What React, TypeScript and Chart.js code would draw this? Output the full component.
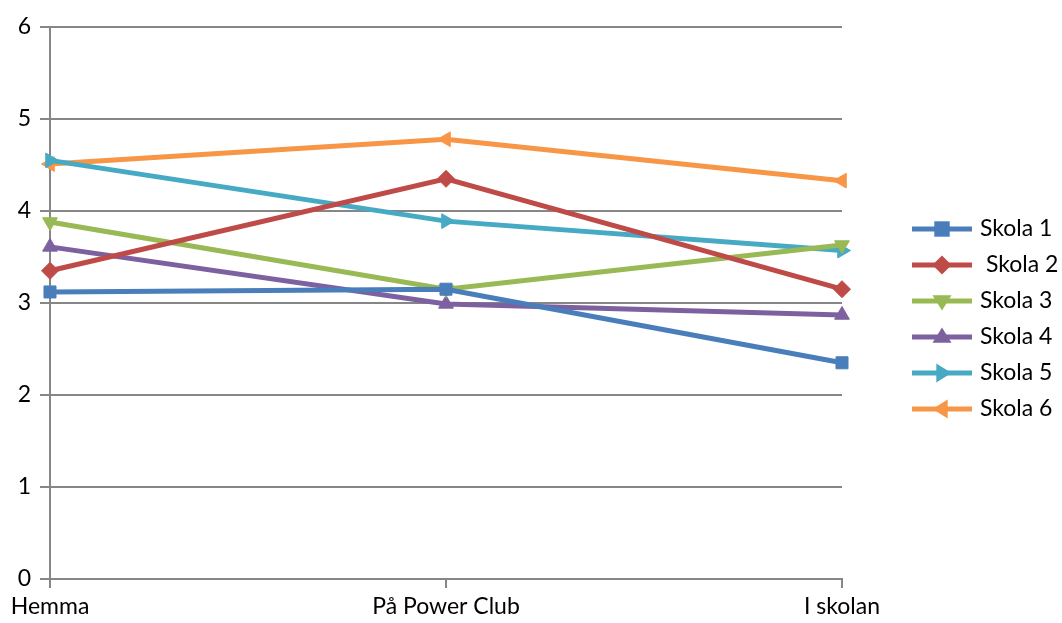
import React, { useEffect, useRef } from "react";
import { Chart, registerables } from "chart.js";

Chart.register(...registerables);

const categories = ["Hemma", "På Power Club", "I skolan"];
const seriesNames = ["Skola 1", " Skola 2", "Skola 3", "Skola 4", "Skola 5", "Skola 6"];
const skola1 = [3.12, 3.15, 2.35];
const skola2 = [3.35, 4.35, 3.15];
const skola3 = [3.88, 3.15, 3.63];
const skola4 = [3.61, 2.99, 2.87];
const skola5 = [4.55, 3.89, 3.57];
const skola6 = [4.51, 4.78, 4.33];
const yTicks = [0, 1, 2, 3, 4, 5, 6];

const colors = ["#4A7EBB", "#BE4B48", "#98B954", "#7D60A0", "#46AAC5", "#F79646"];
const pointStyles = ["rect", "rectRot", "triangle", "triangle", "triangle", "triangle"];
const rotations = [0, 0, 180, 0, 90, -90];
const FONT = "Lato, 'Noto Sans', sans-serif";

function drawMarker(ctx: CanvasRenderingContext2D, style: string, rot: number, x: number, y: number, r: number, color: string) {
  ctx.save();
  ctx.translate(x, y);
  ctx.rotate((rot * Math.PI) / 180);
  ctx.fillStyle = color;
  ctx.beginPath();
  if (style === "rect") {
    const s = Math.SQRT1_2 * r + 1;
    ctx.rect(-s, -s, 2 * s, 2 * s);
  } else if (style === "rectRot") {
    const s = r;
    ctx.moveTo(0, -s);
    ctx.lineTo(s, 0);
    ctx.lineTo(0, s);
    ctx.lineTo(-s, 0);
    ctx.closePath();
  } else {
    const h = r * 1.6;
    const half = r * 1.0;
    ctx.moveTo(0, -r);
    ctx.lineTo(half, -r + h);
    ctx.lineTo(-half, -r + h);
    ctx.closePath();
  }
  ctx.fill();
  ctx.restore();
}

const legendPlugin = {
  id: "customLegend",
  afterDraw(chart: any) {
    const ctx = chart.ctx as CanvasRenderingContext2D;
    const x0 = 912;
    const x1 = 972;
    const y0 = 229;
    const step = 36;
    chart.data.datasets.forEach((ds: any, i: number) => {
      const y = y0 + i * step;
      ctx.save();
      ctx.strokeStyle = colors[i];
      ctx.lineWidth = 5;
      ctx.beginPath();
      ctx.moveTo(x0, y);
      ctx.lineTo(x1, y);
      ctx.stroke();
      drawMarker(ctx, pointStyles[i], rotations[i], (x0 + x1) / 2, y, 9.5, colors[i]);
      ctx.fillStyle = "#000";
      ctx.font = `23px ${FONT}`;
      ctx.textBaseline = "middle";
      ctx.textAlign = "left";
      ctx.fillText(ds.label, 980, y);
      ctx.restore();
    });
  },
};

export default function App() {
  const ref = useRef<HTMLCanvasElement>(null);
  useEffect(() => {
    const data = [skola1, skola2, skola3, skola4, skola5, skola6];
    const chart = new Chart(ref.current!, {
      type: "line",
      data: {
        labels: categories,
        datasets: data.map((d, i) => ({
          label: seriesNames[i],
          data: d,
          borderColor: colors[i],
          backgroundColor: colors[i],
          pointBackgroundColor: colors[i],
          pointBorderColor: colors[i],
          borderWidth: 5,
          pointRadius: 8.5,
          pointBorderWidth: 1,
          pointStyle: pointStyles[i] as any,
          pointRotation: rotations[i],
          tension: 0,
        })),
      },
      options: {
        animation: false,
        responsive: false,
        layout: { padding: { top: 27, right: 220, left: 0, bottom: 0 } },
        plugins: { legend: { display: false }, tooltip: { enabled: false } },
        scales: {
          x: {
            offset: false,
            grid: { drawOnChartArea: false, drawTicks: true, tickLength: 9, color: "#868686", lineWidth: 2 },
            border: { color: "#868686", width: 2 },
            ticks: { color: "#000", font: { family: FONT, size: 23 }, padding: 5, maxRotation: 0, autoSkip: false },
            afterFit: (s: any) => { s.height = 44; },
          },
          y: {
            min: 0,
            max: 6,
            afterBuildTicks: (s: any) => { s.ticks = yTicks.map((v) => ({ value: v })); },
            grid: { color: "#868686", lineWidth: 2, tickLength: 10 },
            border: { color: "#868686", width: 2 },
            ticks: { color: "#000", font: { family: FONT, size: 23 }, padding: 9 },
            afterFit: (s: any) => { s.width = 50; },
          },
        },
      },
      plugins: [legendPlugin],
    });
    return () => chart.destroy();
  }, []);
  return (
    <div style={{ position: "fixed", left: 0, top: 0, width: 1062, height: 623, background: "#fff" }}>
      <canvas ref={ref} width={1062} height={623} style={{ width: 1062, height: 623 }} />
    </div>
  );
}
